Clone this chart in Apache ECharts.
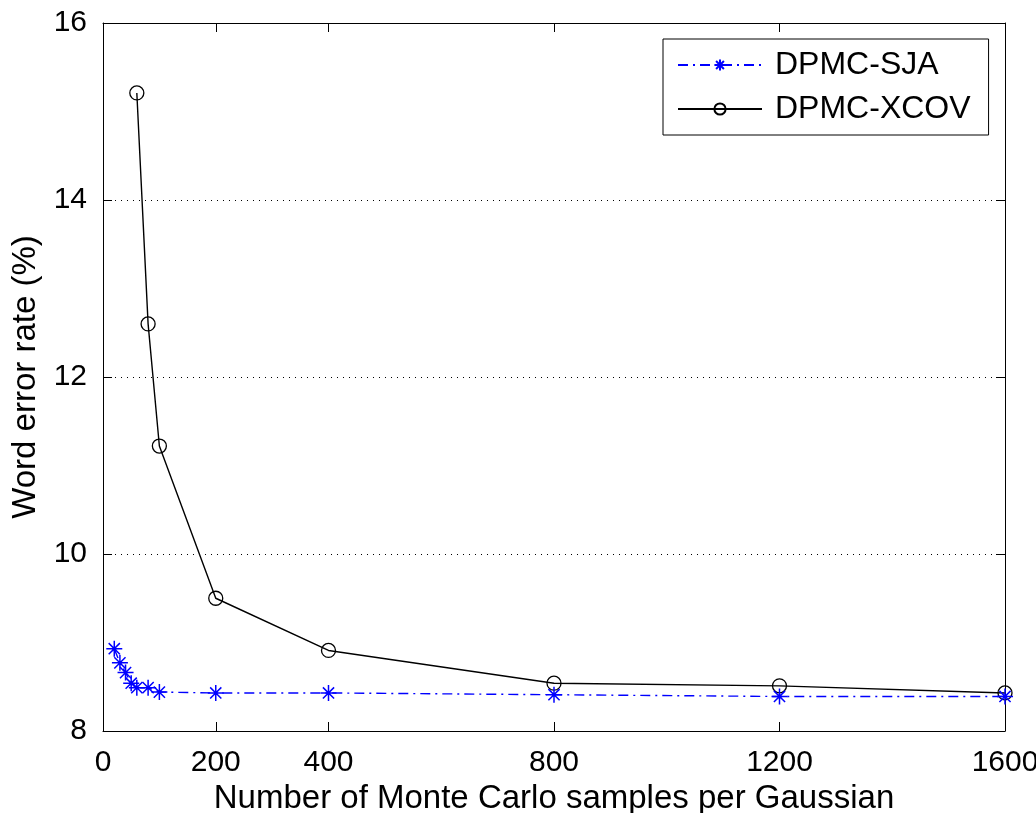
<!DOCTYPE html>
<html><head><meta charset="utf-8">
<script src="https://cdn.jsdelivr.net/npm/echarts@6/dist/echarts.min.js"></script>
<style>html,body{margin:0;padding:0;background:#fff}#c{width:1036px;height:813px}</style>
</head><body><div id="c"></div>
<script>
const sjaX = [20, 30, 40, 50, 60, 80, 100, 200, 400, 800, 1200, 1600];
const sjaY = [8.93, 8.77, 8.66, 8.54, 8.49, 8.49, 8.44, 8.43, 8.43, 8.41, 8.39, 8.39];
const xcovX = [60, 80, 100, 200, 400, 800, 1200, 1600];
const xcovY = [15.21, 12.6, 11.22, 9.5, 8.91, 8.54, 8.51, 8.43];
const xTicks = [0, 200, 400, 800, 1200, 1600];
const yTicks = [8, 10, 12, 14, 16];

const FONT = '"Liberation Sans", Arial, sans-serif';
const asterisk = 'path://M0,-5L0,5M-5,0L5,0M-3.5,-3.5L3.5,3.5M-3.5,3.5L3.5,-3.5';

const chart = echarts.init(document.getElementById('c'));
const xCommon = {
  type: 'value', min: 0, max: 1600,
  axisLine: {show: true, onZero: false, lineStyle: {color: '#000', width: 1}},
  axisTick: {show: true, inside: true, length: 9, customValues: xTicks, lineStyle: {color: '#000'}},
  splitLine: {show: false}
};
const yCommon = {
  type: 'value', min: 8, max: 16, interval: 2,
  axisLine: {show: true, onZero: false, lineStyle: {color: '#000', width: 1}},
  axisTick: {show: true, inside: true, length: 9, lineStyle: {color: '#000'}},
};
chart.setOption({
  animation: false,
  backgroundColor: '#fff',
  textStyle: {fontFamily: FONT},
  grid: {left: 103, right: 31, top: 23, bottom: 82, containLabel: false, outerBoundsMode: 'none'},
  xAxis: [
    Object.assign({}, xCommon, {
      position: 'bottom',
      name: 'Number of Monte Carlo samples per Gaussian',
      nameLocation: 'middle', nameGap: 46,
      nameTextStyle: {fontSize: 33, color: '#000', fontFamily: FONT},
      axisLabel: {show: true, customValues: xTicks, margin: 17, fontSize: 30, color: '#000', fontFamily: FONT,
        formatter: v => String(v)}
    }),
    Object.assign({}, xCommon, {position: 'top', axisLabel: {show: false}})
  ],
  yAxis: [
    Object.assign({}, yCommon, {
      position: 'left',
      name: 'Word error rate (%)',
      nameLocation: 'middle', nameGap: 59,
      nameTextStyle: {fontSize: 33, color: '#000', fontFamily: FONT},
      axisLabel: {show: true, margin: 16, fontSize: 30, color: '#000', fontFamily: FONT},
      splitLine: {show: true, lineStyle: {color: '#000', type: [1, 5], width: 1}}
    }),
    Object.assign({}, yCommon, {position: 'right', axisLabel: {show: false}, splitLine: {show: false}})
  ],
  legend: {
    left: 663, top: 39, width: 322,
    orient: 'vertical',
    backgroundColor: '#fff',
    borderColor: '#000', borderWidth: 1,
    padding: [10, 18, 10, 14],
    itemGap: 12,
    itemWidth: 84, itemHeight: 14,
    textStyle: {fontSize: 32, color: '#000', fontFamily: FONT, padding: [0, 0, 0, 8]},
    data: ['DPMC-SJA', 'DPMC-XCOV']
  },
  series: [
    {
      name: 'DPMC-SJA', type: 'line',
      data: sjaX.map((x, i) => [x, sjaY[i]]),
      symbol: asterisk, symbolSize: 16,
      itemStyle: {color: '#0000ff', borderColor: '#0000ff', borderWidth: 1.5},
      lineStyle: {color: '#0000ff', width: 1.4, type: [10, 5, 2, 5]},
      z: 3
    },
    {
      name: 'DPMC-XCOV', type: 'line',
      data: xcovX.map((x, i) => [x, xcovY[i]]),
      symbol: 'circle', symbolSize: 14,
      itemStyle: {color: 'rgba(0,0,0,0)', borderColor: '#000', borderWidth: 1.3},
      lineStyle: {color: '#000', width: 1.4, type: 'solid'},
      z: 2
    }
  ]
});
</script></body></html>
